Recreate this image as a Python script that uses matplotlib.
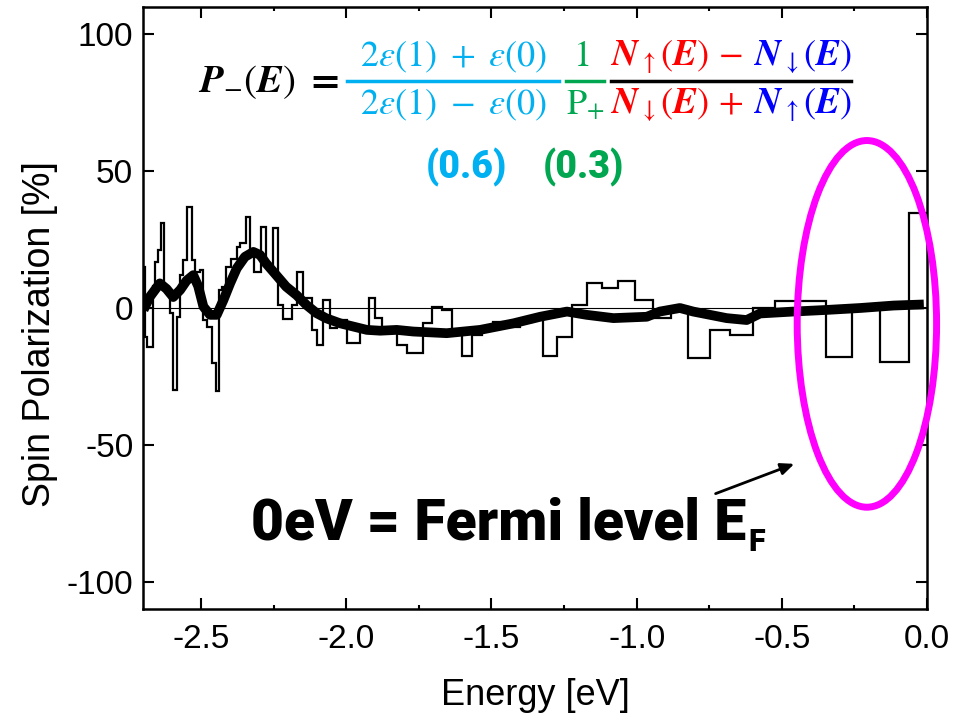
import numpy as np
import matplotlib

matplotlib.use('Agg')
import matplotlib.pyplot as plt
from matplotlib.patches import Ellipse
from matplotlib.lines import Line2D
from matplotlib.ticker import MultipleLocator, FormatStrFormatter

plt.rcParams['font.family'] = ['Liberation Sans', 'DejaVu Sans']
plt.rcParams['mathtext.fontset'] = 'stix'
plt.rcParams['axes.unicode_minus'] = False

# thin histogram-like trace: bin edges [eV] and spin polarization [%]
edges = [-2.700, -2.693, -2.685, -2.667, -2.659, -2.647, -2.639, -2.628, -2.607, -2.596,
         -2.584, -2.572, -2.561, -2.550, -2.532, -2.521, -2.504, -2.492, -2.481, -2.463,
         -2.448, -2.437, -2.429, -2.414, -2.398, -2.377, -2.366, -2.345, -2.331, -2.318,
         -2.295, -2.276, -2.253, -2.234, -2.219, -2.188, -2.171, -2.150, -2.119, -2.102,
         -2.079, -2.056, -2.033, -1.998, -1.952, -1.923, -1.900, -1.877, -1.826, -1.792,
         -1.735, -1.706, -1.671, -1.637, -1.603, -1.568, -1.534, -1.494, -1.450, -1.400,
         -1.360, -1.322, -1.275, -1.224, -1.172, -1.120, -1.063, -1.006, -0.945, -0.880,
         -0.822, -0.748, -0.679, -0.598, -0.524, -0.349, -0.257, -0.162, -0.061, 0.000]
spin_pol = [15.1, -10.5, -14.1, 8.0, 16.9, 21.2, 30.9, 6.6, -1.9, -29.9,
            -3.2, 12.0, 17.5, 37.0, 17.5, 13.3, 13.9, -4.4, -6.8, -20.2,
            -30.5, 6.6, 7.8, 15.1, 18.0, 22.4, 23.6, 33.3, 21.2, 13.3,
            29.7, 15.7, 29.1, 1.1, -4.1, 1.1, 13.3, 3.5, -8.0, -13.5,
            2.9, -7.4, -4.4, -12.9, -8.0, 3.5, -3.8, -7.5, -13.5, -16.5,
            -5.6, 0.4, -0.7, -8.0, -17.5, -10.0, -8.0, -5.0, -7.0, -5.0,
            -4.0, -17.5, -10.7, 1.0, 9.0, 7.3, 9.9, 2.9, -3.7, 0.5,
            -18.2, -8.0, -10.0, 0.0, 2.7, -17.8, 0.5, -19.6, 34.6]

# thick smoothed trace
smooth_e = [-2.698, -2.677, -2.642, -2.619, -2.596, -2.572, -2.550, -2.527, -2.510, -2.492,
            -2.469, -2.446, -2.423, -2.400, -2.377, -2.349, -2.320, -2.297, -2.276, -2.241,
            -2.207, -2.171, -2.137, -2.102, -2.068, -2.021, -1.975, -1.929, -1.883, -1.826,
            -1.769, -1.654, -1.539, -1.424, -1.332, -1.240, -1.172, -1.080, -0.965, -0.920,
            -0.851, -0.805, -0.690, -0.621, -0.575, -0.460, -0.345, -0.230, -0.115, -0.011]
smooth_p = [-0.7, 4.0, 9.0, 7.0, 4.0, 6.6, 10.0, 12.0, 8.0, 0.5,
            -2.5, -2.5, 2.9, 9.0, 14.5, 18.7, 20.5, 19.4, 16.3, 12.0,
            7.8, 4.7, 1.1, -1.9, -3.8, -5.6, -6.8, -8.0, -8.3, -8.0,
            -8.6, -9.2, -8.0, -5.6, -3.2, -1.3, -2.5, -3.7, -3.2, -1.3,
            0.0, -1.3, -3.7, -4.4, -2.0, -1.3, -0.7, 0.0, 0.9, 1.3]

W, H = 959, 714


def px(x, y):
    return x / W, 1 - y / H


fig = plt.figure(figsize=(W / 100, H / 100), dpi=100)
ax = fig.add_axes([143 / W, 1 - 609 / H, (927 - 143) / W, (609 - 7) / H])

ax.axhline(0, color='black', lw=0.8)
ax.stairs(spin_pol, edges, baseline=None, color='black', lw=1.6)
ax.plot(smooth_e, smooth_p, color='black', lw=7, solid_capstyle='butt')

ax.add_patch(Ellipse((-0.207, -5.8), 0.48, 134, fill=False, edgecolor='#FF00FF',
                     lw=5, clip_on=False, zorder=5))
ax.annotate('', xy=(-0.448, -56.6), xytext=(-0.737, -68.2),
            arrowprops=dict(arrowstyle='-|>,head_length=0.8,head_width=0.35',
                            color='black', lw=2))

ax.set_xlim(-2.7, 0.0)
ax.set_ylim(-110, 110)
ax.xaxis.set_major_locator(MultipleLocator(0.5))
ax.xaxis.set_minor_locator(MultipleLocator(0.25))
ax.yaxis.set_major_locator(MultipleLocator(50))
ax.xaxis.set_major_formatter(FormatStrFormatter('%.1f'))
ax.tick_params(which='both', direction='in', top=True, right=True, width=1.5)
ax.tick_params(which='major', length=8, labelsize=24)
ax.tick_params(which='minor', length=3)
ax.tick_params(axis='x', pad=11)
ax.tick_params(axis='y', pad=7)
for s in ax.spines.values():
    s.set_linewidth(1.8)

ax.set_xlabel('Energy [eV]', fontsize=26)
ax.set_ylabel('Spin Polarization [%]', fontsize=27)
ax.xaxis.set_label_coords(0.501, -0.143)
ax.yaxis.set_label_coords(-0.132, 0.457)
ax.xaxis.label.set_va('center')
ax.yaxis.label.set_va('center')

# formula
lblue = '#00B0F0'
green = '#00A650'
fs = 26
fig.text(*px(198, 82), r'$\mathbfit{P}_{-}(\mathbfit{E})\ \mathbf{=}$', fontsize=28,
         ha='left', va='center', color='black')
fig.text(*px(454, 57), r'$2\varepsilon(1)\ +\ \varepsilon(0)$', fontsize=fs,
         ha='center', va='center', color=lblue)
fig.text(*px(454, 105), r'$2\varepsilon(1)\ -\ \varepsilon(0)$', fontsize=fs,
         ha='center', va='center', color=lblue)
fig.text(*px(581, 57), r'$1$', fontsize=fs, ha='center', va='center', color=green)
fig.text(*px(585, 105), r'$\mathrm{P}_{+}$', fontsize=fs, ha='center', va='center', color=green)
fig.text(*px(611, 57), r'$\mathbfit{N}_{\uparrow}(\mathbfit{E})\,-$', fontsize=fs,
         ha='left', va='center', color='red')
fig.text(*px(754, 57), r'$\mathbfit{N}_{\downarrow}(\mathbfit{E})$', fontsize=fs,
         ha='left', va='center', color='blue')
fig.text(*px(611, 105), r'$\mathbfit{N}_{\downarrow}(\mathbfit{E})\,+$', fontsize=fs,
         ha='left', va='center', color='red')
fig.text(*px(754, 105), r'$\mathbfit{N}_{\uparrow}(\mathbfit{E})$', fontsize=fs,
         ha='left', va='center', color='blue')
for x0, x1, c in [(347, 559, lblue), (566, 604, green), (611, 851, 'black')]:
    fig.add_artist(Line2D([x0 / W, x1 / W], [1 - 81 / H] * 2, color=c, lw=2.5,
                          transform=fig.transFigure))

fig.text(*px(466, 167), '(0.6)', fontsize=27, family='Roboto', weight='black',
         ha='center', va='center', color=lblue)
fig.text(*px(583, 167), '(0.3)', fontsize=27, family='Roboto', weight='black',
         ha='center', va='center', color=green)

t = fig.text(*px(251, 540), '0eV = Fermi level E', fontsize=41, family='Roboto',
             weight='black', ha='left', va='baseline')
bb = t.get_window_extent(renderer=fig.canvas.get_renderer())
fig.text(bb.x1 / W + 2 / W, 1 - 551 / H, 'F', fontsize=22, family='Roboto',
         weight='black', ha='left', va='baseline')

fig.savefig('out.png', dpi=100)
